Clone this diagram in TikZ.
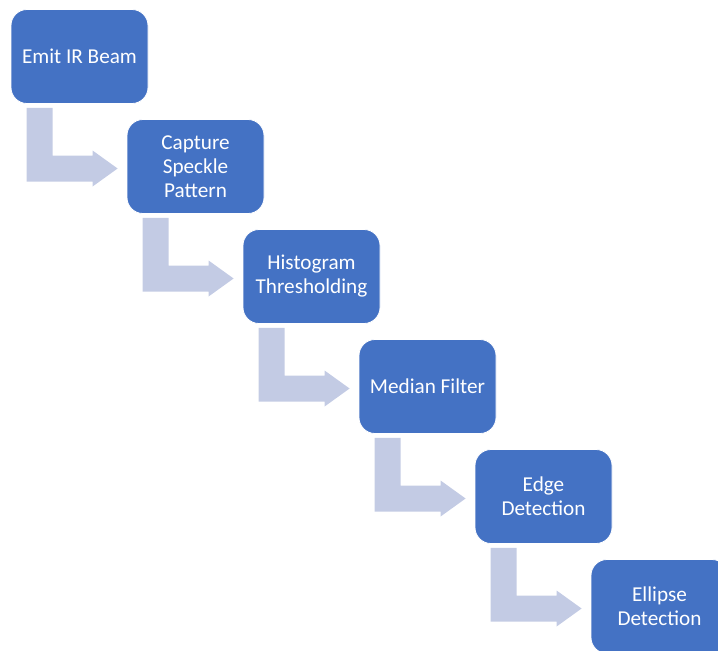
\documentclass[tikz,border=0pt]{standalone}
\usepackage{fontspec}
\setmainfont{Carlito}
\usetikzlibrary{calc}
\definecolor{boxblue}{RGB}{68,114,196}
\definecolor{arrowblue}{RGB}{195,203,228}
\tikzset{
  stepbox/.style={rectangle, rounded corners=16pt, fill=boxblue, draw=white, line width=0.8pt,
    minimum width=137pt, minimum height=94pt, inner sep=0pt, text=white, align=center,
    font=\fontsize{21.2}{24}\selectfont},
  bentarrow/.style={fill=arrowblue, draw=none}
}
\newcommand{\bent}[2]{%
  \fill[bentarrow] ($(#1.south west)+(16,4)$) -- ($(#1.south west)+(42,4)$)
    -- ($(#2.west)+(-74,-11)$) -- ($(#2.west)+(-34,-11)$) -- ($(#2.west)+(-34,-16)$)
    -- ($(#2.west)+(-9,2)$) -- ($(#2.west)+(-34,20)$) -- ($(#2.west)+(-34,15)$)
    -- ($(#2.west)+(-100,15)$) -- cycle;}
\begin{document}
\begin{tikzpicture}[x=1pt,y=-1pt]
\useasboundingbox (0,0) rectangle (718,651);
\clip (0,0) rectangle (718,651);
\node[stepbox] (n1) at (79.5,56.5) {Emit IR Beam};
\node[stepbox] (n2) at (195.5,166.5) {Capture\\Speckle\\Pattern};
\node[stepbox] (n3) at (311.5,276.5) {Histogram\\Thresholding};
\node[stepbox] (n4) at (427.5,386.5) {Median Filter};
\node[stepbox] (n5) at (543.5,496.5) {Edge\\Detection};
\node[stepbox] (n6) at (659.5,606.5) {Ellipse\\Detection};
\bent{n1}{n2}
\bent{n2}{n3}
\bent{n3}{n4}
\bent{n4}{n5}
\bent{n5}{n6}
\end{tikzpicture}
\end{document}
